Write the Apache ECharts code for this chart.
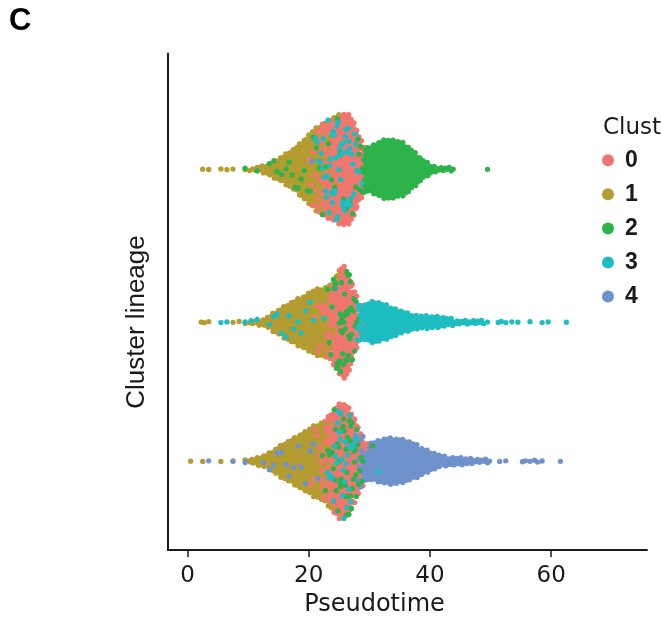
<!DOCTYPE html>
<html>
<head>
<meta charset="utf-8">
<script src="https://cdn.jsdelivr.net/npm/echarts@6/dist/echarts.min.js"></script>
<style>
  html, body { margin: 0; padding: 0; background: #fff; }
  #chart { width: 661px; height: 624px; }
</style>
</head>
<body>
<div id="chart"></div>
<script>
// Cell counts per 1-unit pseudotime bin [bin, count]; a bin b holds cells with pseudotime in [b, b+1).

// Lineage ending in cluster 2 (top row)
const lin2_c0 = [[20,4],[21,10],[22,22],[23,36],[24,48],[25,60],[26,66],[27,60],[28,32],[29,4]];
const lin2_c1 = [[2,1],[3,1],[5,1],[6,1],[7,1],[9,1],[10,2],[11,3],[12,5],[13,8],[14,12],[15,16],[16,22],[17,26],[18,34],[19,42],[20,46],[21,44],[22,36],[23,24],[24,14],[25,6],[26,2]];
const lin2_c2 = [[9,1],[11,1],[13,1],[14,2],[15,1],[16,2],[17,2],[18,2],[19,2],[20,2],[21,2],[22,2],[23,2],[24,2],[25,2],[26,2],[27,2],[28,6],[29,24],[30,34],[31,38],[32,42],[33,42],[34,40],[35,38],[36,32],[37,24],[38,16],[39,10],[40,5],[41,3],[42,3],[43,3],[49,1]];
const lin2_c3 = [[21,4],[22,6],[23,8],[24,10],[25,10],[26,10],[27,6],[28,2]];
const lin2_c4 = [[20,1]];

// Lineage ending in cluster 3 (middle row)
const lin3_c0 = [[21,4],[22,6],[23,18],[24,48],[25,64],[26,62],[27,36],[28,6],[29,2]];
const lin3_c1 = [[2,2],[3,1],[7,1],[8,1],[9,1],[10,2],[11,3],[12,5],[13,8],[14,14],[15,18],[16,24],[17,28],[18,32],[19,36],[20,42],[21,42],[22,40],[23,28],[24,8],[25,2]];
const lin3_c2 = [[23,4],[24,8],[25,14],[26,14],[27,8],[28,2]];
const lin3_c3 = [[5,1],[6,1],[9,1],[10,1],[11,1],[13,1],[14,2],[15,1],[16,2],[17,1],[18,2],[19,1],[20,2],[22,1],[28,12],[29,24],[30,30],[31,28],[32,24],[33,22],[34,18],[35,16],[36,12],[37,10],[38,10],[39,9],[40,9],[41,8],[42,7],[43,5],[44,3],[45,3],[46,3],[47,3],[48,3],[49,1],[51,2],[52,1],[53,1],[54,1],[56,1],[58,1],[59,1],[62,1]];
const lin3_c4 = [[24,1]];

// Lineage ending in cluster 4 (bottom row)
const lin4_c0 = [[20,2],[21,4],[22,12],[23,32],[24,50],[25,60],[26,58],[27,44],[28,26],[29,6]];
const lin4_c1 = [[0,1],[2,1],[5,1],[7,1],[9,1],[10,4],[11,5],[12,8],[13,10],[14,16],[15,22],[16,26],[17,30],[18,36],[19,40],[20,44],[21,46],[22,40],[23,24],[24,12],[25,4],[30,1]];
const lin4_c2 = [[22,2],[23,4],[24,8],[25,10],[26,12],[27,10],[28,6],[30,1]];
const lin4_c3 = [[23,4],[24,6],[25,8],[26,8],[27,4],[31,1]];
const lin4_c4 = [[3,1],[7,1],[9,1],[12,1],[13,1],[14,2],[15,1],[16,2],[17,1],[18,2],[19,1],[20,2],[21,1],[27,2],[28,8],[29,18],[30,24],[31,28],[32,32],[33,32],[34,32],[35,30],[36,28],[37,24],[38,20],[39,16],[40,12],[41,10],[42,6],[43,6],[44,6],[45,5],[46,5],[47,3],[48,3],[49,3],[51,1],[52,1],[55,2],[56,1],[57,2],[58,1],[61,1]];

const clusterNames = ['0', '1', '2', '3', '4'];
const clusterColors = ['#F1766F', '#B49C31', '#2DB34A', '#1DBDC1', '#6E92CC'];
const xTicks = [0, 20, 40, 60];

// rows of the plot, top to bottom, and their vertical position on the y axis
const lineages = [
  [lin2_c0, lin2_c1, lin2_c2, lin2_c3, lin2_c4],
  [lin3_c0, lin3_c1, lin3_c2, lin3_c3, lin3_c4],
  [lin4_c0, lin4_c1, lin4_c2, lin4_c3, lin4_c4]
];
const lineY = [7.67, 4.59, 1.79];
const maxHalfWidth = [56.5, 56, 58.5]; // px, widest spread of each swarm

// van der Corput sequence (base 2) used for quasirandom spreading
function vdc(n) {
  let v = 0, d = 1;
  while (n > 0) { d *= 2; v += (n % 2) / d; n = Math.floor(n / 2); }
  return v;
}

// Quasirandom layout: offset grows with the local density of cells along pseudotime.
const perCluster = clusterNames.map(() => []);
lineages.forEach((clusters, li) => {
  const pts = [];
  clusters.forEach((pairs, c) => {
    pairs.forEach(([b, n]) => {
      for (let j = 0; j < n; j++) pts.push({ x: b + (j + 0.5) / n, c });
    });
  });
  pts.sort((a, b) => a.x - b.x);
  const bw = 0.6;
  const dens = pts.map(p => {
    let s = 0;
    for (const q of pts) { const u = (p.x - q.x) / bw; s += Math.exp(-0.5 * u * u); }
    return s;
  });
  const maxD = Math.max(...dens);
  pts.forEach((p, i) => {
    const off = (vdc(i + 1) * 2 - 1) * maxHalfWidth[li] * dens[i] / maxD;
    perCluster[p.c].push([p.x, li, off]);
  });
});

const chart = echarts.init(document.getElementById('chart'), null, { renderer: 'canvas' });

function dotRenderer(color) {
  return function (params, api) {
    const p = api.coord([api.value(0), lineY[api.value(1)]]);
    return {
      type: 'circle',
      shape: { cx: p[0], cy: p[1] - api.value(2), r: 2.65 },
      style: { fill: color }
    };
  };
}

// drawing order: majority clusters first, scattered minorities on top
const drawOrder = [1, 0, 4, 2, 3];
const series = drawOrder.map(c => ({
  type: 'custom',
  name: clusterNames[c],
  data: perCluster[c],
  itemStyle: { color: clusterColors[c] },
  renderItem: dotRenderer(clusterColors[c]),
  clip: false,
  animation: false
}));

const ink = '#1a1a1a';

chart.setOption({
  animation: false,
  backgroundColor: '#fff',
  grid: { left: 168, right: 14, top: 53.5, bottom: 74, containLabel: false },
  xAxis: {
    type: 'value',
    min: -3.22,
    max: 75.8,
    axisLine: { show: true, onZero: false, lineStyle: { color: ink, width: 2 } },
    axisTick: { show: true, customValues: xTicks, length: 7, lineStyle: { color: ink, width: 1.5 } },
    axisLabel: { customValues: xTicks, margin: 15, fontFamily: 'DejaVu Sans', fontSize: 23, color: ink },
    splitLine: { show: false }
  },
  yAxis: {
    type: 'value',
    min: 0,
    max: 10,
    axisLine: { show: true, onZero: false, lineStyle: { color: ink, width: 2 } },
    axisTick: { show: false },
    axisLabel: { show: false },
    splitLine: { show: false }
  },
  legend: {
    data: clusterNames.map(n => ({ name: n, icon: 'circle' })),
    orient: 'vertical',
    left: 602,
    top: 148.7,
    itemWidth: 12,
    itemHeight: 12,
    itemGap: 11.1,
    padding: 0,
    selectedMode: false,
    textStyle: { fontFamily: 'Liberation Sans', fontWeight: 'bold', fontSize: 23, lineHeight: 16, color: ink, padding: [0, 0, 0, 6] }
  },
  graphic: [
    { type: 'text', x: 9, y: 21, style: { text: 'C', font: 'bold 31px "Liberation Sans"', fill: '#000', align: 'left', verticalAlign: 'middle' } },
    { type: 'text', x: 603, y: 128, style: { text: 'Cluster', font: '23px "DejaVu Sans"', fill: ink, align: 'left', verticalAlign: 'middle' } },
    { type: 'text', x: 137, y: 322, rotation: Math.PI / 2, style: { text: 'Cluster lineage', font: '26px "Liberation Sans"', fill: ink, align: 'center', verticalAlign: 'middle' } },
    { type: 'text', x: 374.5, y: 605, style: { text: 'Pseudotime', font: '24px "DejaVu Sans"', fill: ink, align: 'center', verticalAlign: 'middle' } }
  ],
  series: series
});
</script>
</body>
</html>
